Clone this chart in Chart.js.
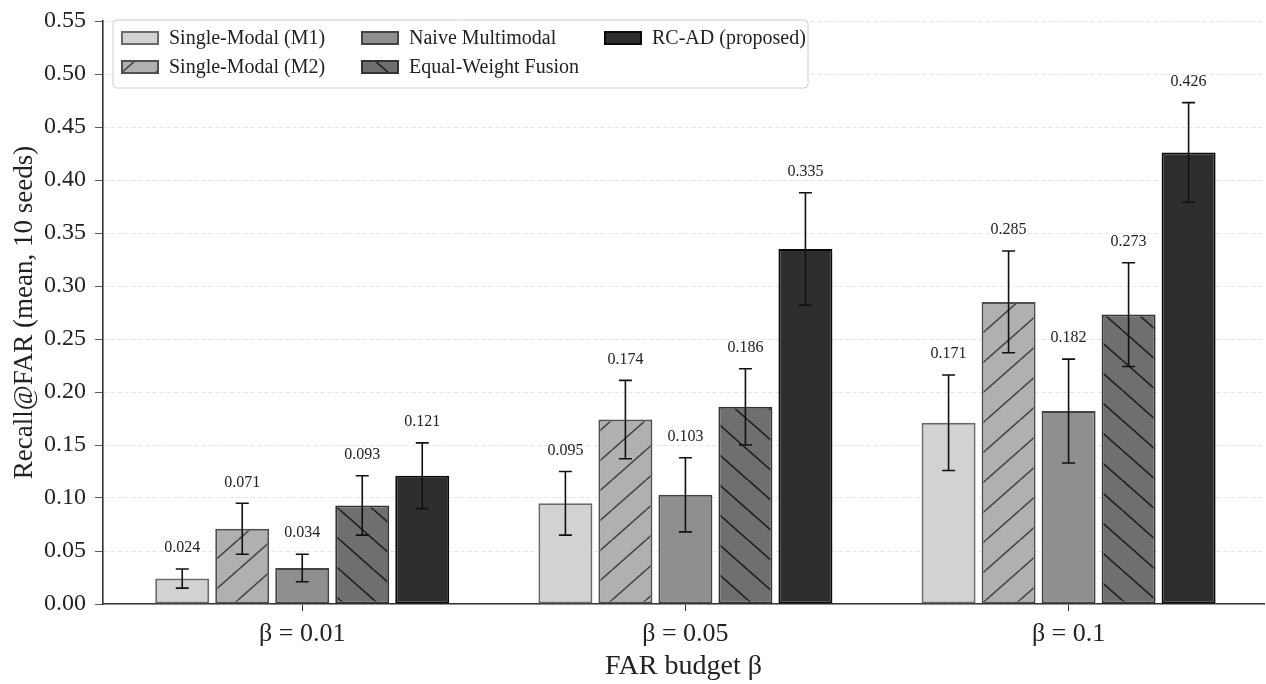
<!DOCTYPE html>
<html>
<head>
<meta charset="utf-8">
<title>Recall@FAR</title>
<script src="https://cdn.jsdelivr.net/npm/chart.js@4.4.1/dist/chart.umd.min.js"></script>
<style>
	body { margin: 0; background: #fff; }
	#wrap { width: 1266px; height: 684px; }
</style>
</head>
<body>
<div id="wrap"><canvas id="recallChart"></canvas></div>
<script>
'use strict';

// data
const budgets = ['\u03B2 = 0.01', '\u03B2 = 0.05', '\u03B2 = 0.1'];
const methodNames = ['Single-Modal (M1)', 'Single-Modal (M2)', 'Naive Multimodal', 'Equal-Weight Fusion', 'RC-AD (proposed)'];

const m1Mean = [0.024, 0.095, 0.171];
const m1Err = [0.009, 0.030, 0.045];
const m2Mean = [0.071, 0.174, 0.285];
const m2Err = [0.024, 0.037, 0.048];
const naiveMean = [0.034, 0.103, 0.182];
const naiveErr = [0.013, 0.035, 0.049];
const equalMean = [0.093, 0.186, 0.273];
const equalErr = [0.028, 0.036, 0.049];
const rcadMean = [0.121, 0.335, 0.426];
const rcadErr = [0.031, 0.053, 0.047];

const yTicks = [0, 0.05, 0.10, 0.15, 0.20, 0.25, 0.30, 0.35, 0.40, 0.45, 0.50, 0.55];

const SERIF = "'Liberation Serif', 'DejaVu Serif', serif";
Chart.defaults.font.family = SERIF;
Chart.defaults.color = '#222';

// hatch pattern ('/' or '\')
function makeHatch(fill, lineColor, dir) {
	const w = 34, h = 30;
	const c = document.createElement('canvas');
	c.width = w;
	c.height = h;
	const ctx = c.getContext('2d');
	ctx.fillStyle = fill;
	ctx.fillRect(0, 0, w, h);
	ctx.strokeStyle = lineColor;
	ctx.lineWidth = 1.6;
	for (let k = -1; k <= 1; k++) {
		ctx.beginPath();
		if (dir === '/') {
			ctx.moveTo(k * w, h);
			ctx.lineTo(k * w + w, 0);
		} else {
			ctx.moveTo(k * w, 0);
			ctx.lineTo(k * w + w, h);
		}
		ctx.stroke();
	}
	return ctx.createPattern(c, 'repeat');
}

// error bars + value labels
const errorBarPlugin = {
	id: 'errorBars',
	afterDatasetsDraw(chart) {
		const ctx = chart.ctx;
		const yScale = chart.scales.y;
		ctx.save();
		chart.data.datasets.forEach((ds, i) => {
			const meta = chart.getDatasetMeta(i);
			meta.data.forEach((bar, j) => {
				const v = ds.data[j].y;
				const e = ds.errors[j];
				const top = yScale.getPixelForValue(v + e);
				const bot = yScale.getPixelForValue(v - e);
				ctx.strokeStyle = '#111';
				ctx.lineWidth = 1.6;
				ctx.beginPath();
				ctx.moveTo(bar.x, top);
				ctx.lineTo(bar.x, bot);
				ctx.moveTo(bar.x - 6.5, top);
				ctx.lineTo(bar.x + 6.5, top);
				ctx.moveTo(bar.x - 6.5, bot);
				ctx.lineTo(bar.x + 6.5, bot);
				ctx.stroke();

				ctx.fillStyle = '#222';
				ctx.font = '16px ' + SERIF;
				ctx.textAlign = 'center';
				ctx.textBaseline = 'middle';
				ctx.fillText(v.toFixed(3), bar.x, top - 21);
			});
		});
		ctx.restore();
	}
};

// legend drawn inside the plot, column-wise like the original
const boxLegendPlugin = {
	id: 'boxLegend',
	afterDraw(chart) {
		const ctx = chart.ctx;
		const area = chart.chartArea;
		const x0 = area.left + 10;
		const y0 = area.top - 1;
		const colX = [8, 248, 491];
		const rowY = [18, 47];
		ctx.save();
		ctx.beginPath();
		ctx.roundRect(x0, y0, 695, 68, 4);
		ctx.fillStyle = 'rgba(255,255,255,0.9)';
		ctx.fill();
		ctx.strokeStyle = '#cccccc';
		ctx.lineWidth = 1;
		ctx.stroke();

		chart.data.datasets.forEach((ds, i) => {
			const col = Math.floor(i / 2);
			const row = i % 2;
			const px = x0 + colX[col];
			const py = y0 + rowY[row];
			ctx.fillStyle = ds.backgroundColor;
			ctx.fillRect(px, py - 7, 38, 14);
			ctx.strokeStyle = ds.borderColor;
			ctx.lineWidth = 2;
			ctx.strokeRect(px + 1, py - 6, 36, 12);
			ctx.fillStyle = '#222';
			ctx.font = '20px ' + SERIF;
			ctx.textAlign = 'left';
			ctx.textBaseline = 'middle';
			ctx.fillText(ds.label, px + 48, py + 1);
		});
		ctx.restore();
	}
};

function initRecallChart() {
	const recall_chart = document.getElementById('recallChart');
	if (!recall_chart) return;

	const series = [
		{ mean: m1Mean, err: m1Err, fill: '#d2d2d2', border: '#6a6a6a' },
		{ mean: m2Mean, err: m2Err, fill: makeHatch('#b0b0b0', '#454545', '/'), border: '#505050' },
		{ mean: naiveMean, err: naiveErr, fill: '#8f8f8f', border: '#444444' },
		{ mean: equalMean, err: equalErr, fill: makeHatch('#6f6f6f', '#1e1e1e', '\\'), border: '#333333' },
		{ mean: rcadMean, err: rcadErr, fill: '#2e2e2e', border: '#0a0a0a' }
	];

	// x = budget index, y = mean recall
	const datasets = series.map((s, i) => ({
		label: methodNames[i],
		data: s.mean.map((v, j) => ({ x: j, y: v })),
		errors: s.err,
		backgroundColor: s.fill,
		borderColor: s.border,
		borderWidth: 2,
		borderSkipped: false,
		categoryPercentage: 0.783,
		barPercentage: 0.9
	}));

	new Chart(recall_chart, {
		type: 'bar',
		data: {
			datasets: datasets
		},
		options: {
			responsive: true,
			maintainAspectRatio: false,
			animation: false,
			layout: {
				padding: { top: 21, right: 2, left: 0, bottom: 0 }
			},
			plugins: {
				legend: { display: false },
				tooltip: { enabled: false },
				title: { display: false }
			},
			scales: {
				x: {
					type: 'linear',
					offset: false,
					min: -0.52,
					max: 2.51,
					afterBuildTicks(scale) {
						scale.ticks = budgets.map((b, i) => ({ value: i }));
					},
					grid: {
						offset: false,
						drawOnChartArea: false,
						drawTicks: true,
						tickLength: 7,
						tickColor: '#333'
					},
					border: { color: '#333', width: 1.6 },
					ticks: {
						padding: 8,
						color: '#222',
						font: { size: 26 },
						callback: value => budgets[value]
					},
					title: {
						display: true,
						text: 'FAR budget \u03B2',
						color: '#222',
						font: { size: 28 },
						padding: { top: 0, bottom: 1 }
					},
					afterFit(scale) {
						scale.height = 80;
						scale.paddingLeft = 0;
						scale.paddingRight = 0;
					}
				},
				y: {
					min: 0,
					max: 0.55,
					afterBuildTicks(scale) {
						scale.ticks = yTicks.map(v => ({ value: v }));
					},
					grid: {
						color: '#dcdcdc',
						lineWidth: 0.8,
						tickColor: '#333',
						tickLength: 8,
						drawTicks: true
					},
					border: { color: '#333', width: 1.6, dash: [4, 3] },
					ticks: {
						padding: 9,
						color: '#222',
						font: { size: 24 },
						callback: value => Number(value).toFixed(2)
					},
					title: {
						display: true,
						text: 'Recall@FAR (mean, 10 seeds)',
						color: '#222',
						font: { size: 27 },
						padding: { top: 9, bottom: 0 }
					},
					afterFit(scale) {
						scale.width = 103;
						scale.paddingTop = 0;
						scale.paddingBottom = 0;
					}
				}
			}
		},
		plugins: [errorBarPlugin, boxLegendPlugin]
	});
}

document.addEventListener('DOMContentLoaded', function() {
	initRecallChart();
});
</script>
</body>
</html>
